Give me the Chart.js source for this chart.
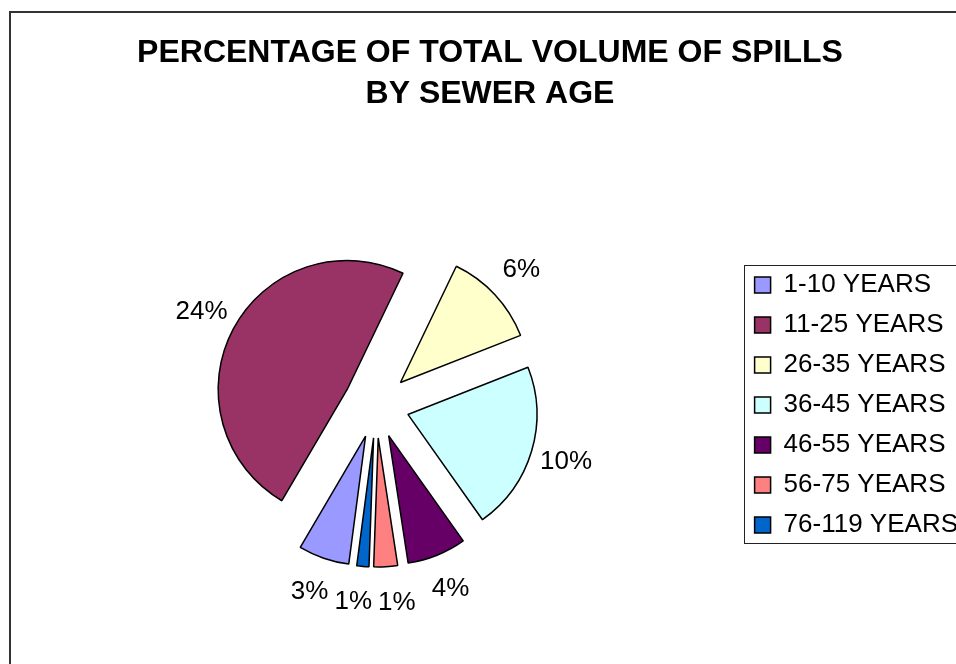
<!DOCTYPE html>
<html>
<head>
<meta charset="utf-8">
<script src="https://cdn.jsdelivr.net/npm/chart.js@4.4.0/dist/chart.umd.min.js"></script>
<style>
  html, body { margin: 0; padding: 0; background: #fff; overflow: hidden; width: 956px; height: 664px; }
  #frame { position: absolute; left: 9px; top: 11px; width: 1000px; height: 700px; border: 2px solid #333; }
  #chart { position: absolute; left: 0; top: 0; }
</style>
</head>
<body>
<div id="frame"></div>
<canvas id="chart" width="980" height="700"></canvas>
<script>
// ---------- data ----------
const ageGroups = ['1-10 YEARS', '11-25 YEARS', '26-35 YEARS', '36-45 YEARS', '46-55 YEARS', '56-75 YEARS', '76-119 YEARS'];
const volumePct = [3.1, 23.7, 5.8, 10.3, 3.6, 1.45, 0.74];
const sliceColors = ['#9999FF', '#993366', '#FFFFCC', '#CCFFFF', '#660066', '#FF8080', '#0066CC'];
const titleLines = ['PERCENTAGE OF TOTAL VOLUME OF SPILLS', 'BY SEWER AGE'];

const FONT = '"Liberation Sans", Arial, sans-serif';
const EXPLODE = 33;     // how far each slice is pulled out
const LABEL_GAP = 36;   // label distance past the slice edge

// pull every slice outward along its own middle angle (no radius change)
const explodePlugin = {
    id: 'explode',
    afterDatasetUpdate(chart, args) {
        args.meta.data.forEach(arc => {
            const mid = (arc.startAngle + arc.endAngle) / 2;
            arc.x += Math.cos(mid) * EXPLODE;
            arc.y += Math.sin(mid) * EXPLODE;
        });
    }
};

// "24%" style labels outside the slices
const sliceLabelPlugin = {
    id: 'sliceLabels',
    afterDatasetsDraw(chart) {
        const ctx = chart.ctx;
        const meta = chart.getDatasetMeta(0);
        ctx.save();
        ctx.font = '26px ' + FONT;
        ctx.fillStyle = '#000';
        ctx.textAlign = 'center';
        ctx.textBaseline = 'middle';

        const items = meta.data.map((arc, i) => {
            const mid = (arc.startAngle + arc.endAngle) / 2;
            const dist = arc.outerRadius + LABEL_GAP;
            const text = Math.round(volumePct[i]) + '%';
            return { x: arc.x + Math.cos(mid) * dist, y: arc.y + Math.sin(mid) * dist, text, w: ctx.measureText(text).width };
        });

        // push overlapping labels apart sideways
        for (let pass = 0; pass < 10; pass++) {
            for (let a = 0; a < items.length; a++) {
                for (let b = a + 1; b < items.length; b++) {
                    const p = items[a], q = items[b];
                    const need = (p.w + q.w) / 2 + 6;
                    const dx = q.x - p.x;
                    if (Math.abs(dx) < need && Math.abs(q.y - p.y) < 26) {
                        const push = (need - Math.abs(dx)) / 2;
                        const dir = dx >= 0 ? 1 : -1;
                        p.x -= push * dir;
                        q.x += push * dir;
                    }
                }
            }
        }

        items.forEach(it => ctx.fillText(it.text, it.x, it.y));
        ctx.restore();
    }
};

// thin frame round the legend, like the spreadsheet one
const legendFramePlugin = {
    id: 'legendFrame',
    afterDraw(chart) {
        const lg = chart.legend;
        const hb = lg.legendHitBoxes;
        if (!hb || !hb.length) return;
        const top = hb[0].top - 7;
        const last = hb[hb.length - 1];
        const bottom = last.top + last.height + 5;
        const ctx = chart.ctx;
        ctx.save();
        ctx.strokeStyle = '#222';
        ctx.lineWidth = 1;
        ctx.strokeRect(Math.round(lg.left + 3) + 0.5, Math.round(top) + 0.5, lg.right - lg.left, Math.round(bottom - top));
        ctx.restore();
    }
};

new Chart(document.getElementById('chart'), {
    type: 'pie',
    data: {
        labels: ageGroups,
        datasets: [{
            data: volumePct,
            backgroundColor: sliceColors,
            borderColor: '#000',
            borderWidth: 1.5
        }]
    },
    options: {
        responsive: false,
        animation: false,
        events: [],
        radius: 129,
        rotation: 187.5,
        layout: { padding: { left: 12, right: 12, top: 0, bottom: 15 } },
        plugins: {
            title: {
                display: true,
                text: titleLines,
                color: '#000',
                font: { family: FONT, size: 32, weight: 'bold', lineHeight: '41px' },
                padding: { top: 33, bottom: 10 }
            },
            legend: {
                position: 'right',
                fullSize: false,
                labels: {
                    color: '#000',
                    font: { family: FONT, size: 26 },
                    boxWidth: 16,
                    boxHeight: 16,
                    padding: 14
                }
            },
            tooltip: { enabled: false }
        }
    },
    plugins: [explodePlugin, sliceLabelPlugin, legendFramePlugin]
});
</script>
</body>
</html>
